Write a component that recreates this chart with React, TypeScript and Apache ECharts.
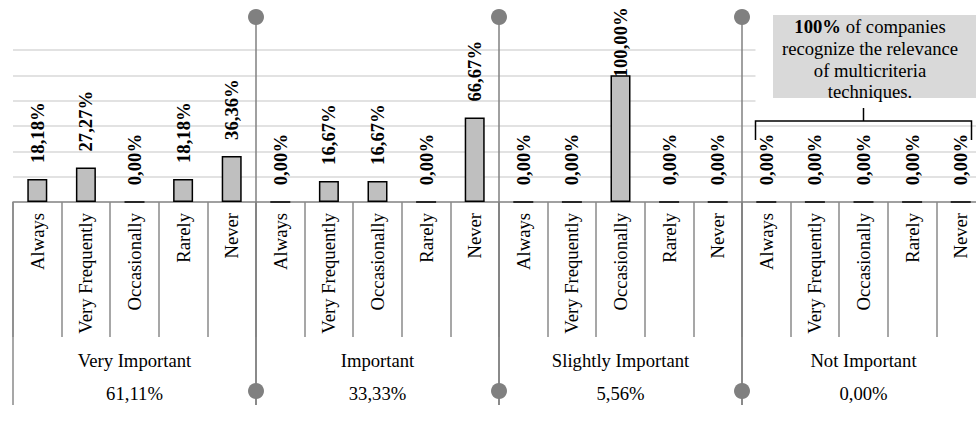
import React, { useEffect, useRef } from 'react';
import * as echarts from 'echarts';

const categories = ['Always', 'Very Frequently', 'Occasionally', 'Rarely', 'Never'];
const groups = ['Very Important', 'Important', 'Slightly Important', 'Not Important'];
const groupShares = [61.11, 33.33, 5.56, 0.0];
const veryImportant = [18.18, 27.27, 0, 18.18, 36.36];
const important = [0, 16.67, 16.67, 0, 66.67];
const slightlyImportant = [0, 0, 100, 0, 0];
const notImportant = [0, 0, 0, 0, 0];
const yMax = 120;
const yStep = 20;
const noteLines = ['{b|100%} of companies', 'recognize the relevance', 'of multicriteria', 'techniques.'];

const FONT = "'Liberation Serif', 'Times New Roman', serif";
const FS = 18.67;
const fmt = (v: number) => v.toFixed(2).replace('.', ',') + '%';

export default function App() {
  const ref = useRef<HTMLDivElement>(null);
  useEffect(() => {
    if (!ref.current) return;
    const chart = echarts.init(ref.current, undefined, { renderer: 'svg' });
    const groupValues = [veryImportant, important, slightlyImportant, notImportant];
    const xCats: string[] = [];
    const values: any[] = [];
    groupValues.forEach((arr) => {
      arr.forEach((v, i) => {
        xCats.push(categories[i]);
        values.push(v >= 100 ? { value: v, label: { distance: -2 } } : v);
      });
    });
    const axisGray = '#8a8a8a';
    chart.setOption({
      animation: false,
      grid: { left: 13, top: 50, width: 972, height: 152, containLabel: false, outerBoundsMode: 'none' },
      xAxis: [
        {
          type: 'category',
          data: xCats,
          position: 'bottom',
          axisLine: { show: true, lineStyle: { color: axisGray, width: 1.5 } },
          axisTick: { show: true, interval: 0, length: 135, lineStyle: { color: axisGray, width: 1.5 } },
          axisLabel: { interval: 0, rotate: 90, margin: 11, fontFamily: FONT, fontSize: FS, color: '#000' },
          splitLine: { show: false },
        },
        {
          type: 'category',
          data: groups,
          position: 'bottom',
          axisLine: { show: false },
          axisTick: { show: true, interval: 0, length: 203, lineStyle: { color: axisGray, width: 1.5 } },
          axisLabel: {
            interval: 0,
            margin: 142,
            fontFamily: FONT,
            fontSize: FS,
            color: '#000',
            lineHeight: 33,
            formatter: (name: string) => `${name}\n${fmt(groupShares[groups.indexOf(name)])}`,
          },
          splitLine: { show: false },
        },
      ],
      yAxis: {
        type: 'value',
        min: 0,
        max: yMax,
        interval: yStep,
        axisLine: { show: false },
        axisTick: { show: false },
        axisLabel: { show: false },
        splitLine: { show: true, lineStyle: { color: '#d9d9d9', width: 1.5 } },
      },
      series: [
        {
          type: 'bar',
          xAxisIndex: 0,
          data: values,
          barWidth: 20,
          itemStyle: { color: '#bfbfbf', borderColor: '#000', borderWidth: 1.5 },
          label: {
            show: true,
            position: 'top',
            rotate: 90,
            align: 'left',
            verticalAlign: 'middle',
            distance: 16,
            fontFamily: FONT,
            fontSize: FS,
            fontWeight: 'bold',
            color: '#000',
            formatter: (p: any) => fmt(p.value),
          },
        },
      ],
    });

    const px = (i: number) => chart.convertToPixel({ xAxisIndex: 0 }, i) as number;
    const graphics: any[] = [];
    const sepGray = '#808080';
    for (let g = 1; g < groups.length; g++) {
      const idx = g * categories.length;
      const x = (px(idx - 1) + px(idx)) / 2;
      graphics.push({
        type: 'line', z: 50,
        shape: { x1: x, y1: 17, x2: x, y2: 405 },
        style: { stroke: sepGray, lineWidth: 1.5 },
      });
      graphics.push({ type: 'circle', z: 51, shape: { cx: x, cy: 17, r: 8 }, style: { fill: sepGray } });
      graphics.push({ type: 'circle', z: 51, shape: { cx: x, cy: 391, r: 8 }, style: { fill: sepGray } });
    }
    const gc = chart.convertToPixel({ xAxisIndex: 1 }, groups.length - 1) as number;
    const bl = gc - 108;
    const br = gc + 108;
    graphics.push({ type: 'rect', z: 60, shape: { x: bl, y: 30, width: 976 - bl, height: 76 }, style: { fill: '#fff' } });
    graphics.push({ type: 'rect', z: 61, shape: { x: 773, y: 15, width: 210, height: 83 }, style: { fill: '#d9d9d9' } });
    graphics.push({
      type: 'text', z: 62,
      x: 870, y: 16,
      style: {
        text: noteLines.join('\n'),
        align: 'center',
        verticalAlign: 'top',
        fontFamily: FONT,
        fontSize: FS,
        lineHeight: 21.7,
        fill: '#000',
        rich: { b: { fontFamily: FONT, fontSize: FS, fontWeight: 'bold', lineHeight: 21.7, fill: '#000' } },
      },
    });
    graphics.push({
      type: 'polyline', z: 62,
      shape: { points: [[bl, 140], [bl, 121], [br, 121], [br, 140]] },
      style: { stroke: '#000', lineWidth: 1.5, fill: 'none' },
    });
    graphics.push({
      type: 'line', z: 62,
      shape: { x1: gc, y1: 108, x2: gc, y2: 121 },
      style: { stroke: '#000', lineWidth: 1.5 },
    });
    chart.setOption({ graphic: graphics });

    return () => chart.dispose();
  }, []);
  return (
    <div
      ref={ref}
      style={{ position: 'absolute', left: 0, top: 0, width: 976, height: 428, background: '#fff' }}
    />
  );
}
